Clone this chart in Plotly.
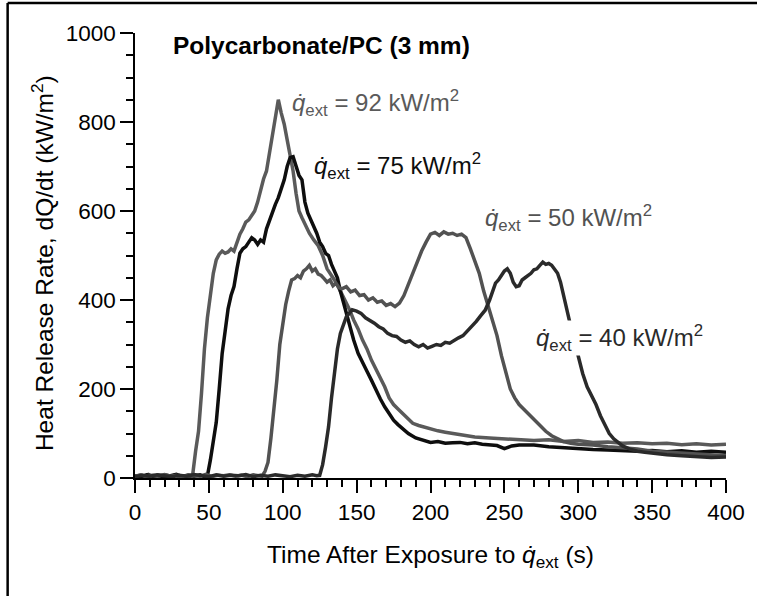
import plotly.graph_objects as go

# ---- data ----
t92 = [0, 3, 6, 9, 12, 15, 18, 21, 24, 27, 30, 33, 36, 38, 39,
       41, 43, 45, 47, 49, 51, 53, 55, 57, 59, 61, 63, 65, 67, 69, 71, 73, 75, 77, 79,
       81, 83, 85, 87, 89, 91, 93, 95, 97, 99, 101, 103, 105, 107, 109, 111, 113, 115,
       118, 121, 124, 127, 130, 133, 136, 139, 142, 145, 148, 151, 154, 157, 160, 163,
       166, 169, 172, 175, 178, 181, 184, 188, 192, 196, 200, 205, 210, 215, 220, 225,
       230, 240, 250, 260, 270, 280, 290, 300, 310, 320, 330, 340, 350, 360, 370, 380, 390, 400]
v92 = [2, 6, 3, 8, 4, 5, 2, 7, 4, 6, 3, 5, 2, 4, 6,
       60, 105, 190, 290, 360, 410, 460, 490, 503, 510, 505, 508, 515, 510, 530, 548, 560, 575, 580, 592,
       600, 620, 650, 672, 690, 730, 765, 815, 850, 820, 795, 760, 725, 690, 640, 600, 585, 570,
       550, 535, 522, 500, 470, 455, 440, 420, 400, 380, 355, 335, 310, 290, 265, 245,
       225, 205, 180, 165, 155, 145, 135, 123, 118, 114, 110, 106, 103, 100, 98, 95,
       92, 90, 88, 87, 84, 86, 82, 84, 80, 81, 78, 79, 77, 78, 75, 77, 74, 76]

t75 = [0, 4, 8, 12, 16, 20, 24, 28, 32, 36, 40, 44, 47, 49,
       51, 53, 55, 57, 59, 61, 63, 65, 67, 69, 71, 73, 75, 77, 79, 81, 83, 85, 87, 89, 91,
       93, 95, 97, 99, 101, 103, 105, 107, 109, 111, 113, 115, 117, 119, 121, 123, 125, 127,
       129, 131, 133, 135, 137, 139, 141, 143, 145, 148, 151, 154, 157, 160, 163, 166, 169,
       172, 175, 178, 181, 185, 190, 195, 200, 205, 210, 215, 220, 225, 230, 235, 240, 245,
       250, 255, 260, 270, 280, 290, 300, 310, 320, 330, 340, 350, 360, 370, 380, 390, 400]
v75 = [5, 3, 7, 4, 6, 2, 5, 8, 3, 6, 4, 7, 3, 5,
       40, 80, 125, 200, 280, 330, 380, 410, 430, 470, 505, 515, 520, 530, 540, 535, 525, 535, 530, 560, 580,
       595, 615, 630, 650, 670, 700, 720, 722, 700, 680, 670, 620, 595, 580, 565, 550, 530, 520,
       505, 500, 480, 465, 450, 420, 395, 365, 340, 310, 280, 262, 240, 220, 198, 178, 160,
       145, 130, 120, 112, 100, 90, 85, 80, 82, 78, 79, 80, 77, 79, 76, 75, 73,
       66, 72, 74, 74, 70, 68, 65, 64, 63, 62, 60, 62, 59, 61, 58, 60, 58]

t50 = [0, 4, 8, 12, 16, 20, 24, 28, 32, 36, 40, 44, 48, 52, 56, 60, 64, 68, 72, 76, 80, 84, 86,
       88, 90, 92, 94, 96, 98, 100, 102, 104, 106, 108, 110, 112, 114, 116, 118, 120, 122, 124,
       126, 128, 130, 132, 134, 136, 138, 140, 143, 146, 149, 152, 155, 158, 161, 164, 167, 170,
       173, 176, 179, 182, 185, 188, 191, 194, 197, 200, 203, 206, 209, 212, 215, 218, 221, 224,
       227, 230, 233, 236, 239, 242, 245, 248, 251, 254, 257, 260, 263, 266, 270, 274, 278, 282,
       286, 290, 295, 300, 310, 320, 330, 340, 350, 360, 370, 380, 390, 400]
v50 = [4, 7, 3, 6, 5, 8, 4, 6, 3, 7, 5, 4, 8, 3, 6, 5, 7, 4, 6, 3, 7, 5, 4,
       15, 35, 90, 150, 220, 300, 350, 390, 420, 445, 448, 455, 450, 465, 470, 478, 465, 470, 458,
       455, 448, 440, 445, 432, 438, 428, 425, 430, 418, 422, 410, 412, 400, 405, 395, 398, 388,
       392, 385, 393, 410, 435, 465, 490, 510, 530, 548, 552, 545, 553, 548, 550, 545, 548, 540,
       515, 490, 460, 420, 385, 355, 320, 275, 235, 200, 180, 165, 155, 145, 130, 118, 105, 95,
       88, 82, 78, 76, 74, 70, 68, 65, 60, 58, 55, 53, 52, 50]

t40 = [0, 5, 10, 15, 20, 25, 30, 35, 40, 45, 50, 55, 60, 65, 70, 75, 80, 85, 90, 95, 100, 105,
       110, 115, 120, 123, 125,
       127, 129, 131, 133, 135, 137, 139, 141, 143, 145, 147, 150, 153, 156, 159, 162, 165, 168,
       171, 174, 177, 180, 183, 186, 189, 192, 195, 198, 201, 204, 207, 210, 213, 216, 219, 222,
       225, 228, 231, 234, 237, 240, 242, 244, 246, 248, 250, 252, 254, 256, 258, 260, 262, 264,
       266, 268, 270, 272, 274, 276, 278, 280, 282, 284, 286, 288, 290, 292, 294, 296, 298, 300,
       303, 306, 309, 312, 315, 318, 321, 324, 327, 330, 335, 340, 345, 350, 360, 370, 380, 390, 400]
v40 = [3, 6, 4, 7, 5, 3, 6, 4, 8, 5, 3, 7, 4, 6, 5, 8, 3, 6, 4, 7, 5, 3,
       6, 4, 7, 5, 6,
       30, 70, 115, 180, 240, 290, 325, 345, 362, 370, 378, 375, 370, 360, 355, 348, 340, 335,
       325, 320, 318, 310, 305, 308, 300, 295, 300, 292, 296, 300, 298, 305, 303, 310, 315, 320,
       330, 340, 352, 365, 377, 400, 420, 438, 445, 455, 465, 470, 460, 440, 430, 432, 445, 450,
       455, 460, 468, 470, 478, 485, 480, 482, 478, 470, 460, 440, 410, 380, 350, 325, 300, 272,
       235, 205, 185, 165, 140, 120, 100, 88, 80, 72, 65, 60, 58, 56, 52, 50, 48, 46, 47]

series = [
    ("92", t92, v92, "#5a5a5a"),
    ("75", t75, v75, "#0e0e0e"),
    ("50", t50, v50, "#525252"),
    ("40", t40, v40, "#2a2a2a"),
]

x_ticks = [0, 50, 100, 150, 200, 250, 300, 350, 400]
y_ticks = [0, 200, 400, 600, 800, 1000]

FONT = "Liberation Sans, Arial, Helvetica, sans-serif"

fig = go.Figure()
for name, t, v, col in series:
    fig.add_trace(go.Scatter(x=t, y=v, mode="lines", name=name,
                             line=dict(color=col, width=3.5), showlegend=False))

axis_common = dict(showline=True, linecolor="black", linewidth=1.5, ticks="outside",
                   ticklen=13, tickwidth=1.5, tickcolor="black", showgrid=False,
                   zeroline=False, tickfont=dict(family=FONT, size=22.5, color="black"))

fig.update_xaxes(range=[0, 400], tickvals=x_ticks, **axis_common,
                 minor=dict(dtick=10, ticklen=7, tickwidth=1.5, tickcolor="black", ticks="outside"))
fig.update_yaxes(range=[0, 1000], tickvals=y_ticks, **axis_common,
                 minor=dict(dtick=50, ticklen=7, tickwidth=1.5, tickcolor="black", ticks="outside"))

qlab = "<i>q̇</i><sub>ext</sub> = {} kW/m<sup>2</sup>"
labels = [
    (105.5, 843, qlab.format(92), "#5a5a5a"),
    (120.5, 702, qlab.format(75), "#0e0e0e"),
    (236.5, 585, qlab.format(50), "#525252"),
    (270.5, 315, qlab.format(40), "#2a2a2a"),
]
for x, y, txt, col in labels:
    fig.add_annotation(x=x, y=y, xref="x", yref="y", text=txt, showarrow=False,
                       xanchor="left", yanchor="middle", bgcolor="white", borderpad=0,
                       font=dict(family=FONT, size=24, color=col))

fig.add_annotation(x=24.5, y=973, xref="x", yref="y", text="<b>Polycarbonate/PC (3 mm)</b>",
                   showarrow=False, xanchor="left", yanchor="middle",
                   font=dict(family=FONT, size=24.5, color="black"))

fig.add_annotation(x=0.5, y=-0.1775, xref="paper", yref="paper",
                   text="Time After Exposure to <i>q̇</i><sub>ext</sub> (s)",
                   showarrow=False, xanchor="center", yanchor="middle",
                   font=dict(family=FONT, size=24.5, color="black"))
fig.add_annotation(x=-0.1566, y=0.484, xref="paper", yref="paper",
                   text="Heat Release Rate, dQ/dt (kW/m<sup>2</sup>)", textangle=-90,
                   showarrow=False, xanchor="center", yanchor="middle",
                   font=dict(family=FONT, size=24.5, color="black"))

# frame (left and top edges visible in the reference)
fig.add_shape(type="line", xref="paper", yref="paper", x0=-0.2155, x1=-0.2155, y0=1.0674, y1=-0.35,
              line=dict(color="black", width=2.5))
fig.add_shape(type="line", xref="paper", yref="paper", x0=-0.2155, x1=1.2, y0=1.0674, y1=1.0674,
              line=dict(color="black", width=2.5))

fig.update_layout(width=757, height=596, margin=dict(l=135, r=28, t=33, b=118),
                  plot_bgcolor="white", paper_bgcolor="white")

fig.write_html("out.html")
